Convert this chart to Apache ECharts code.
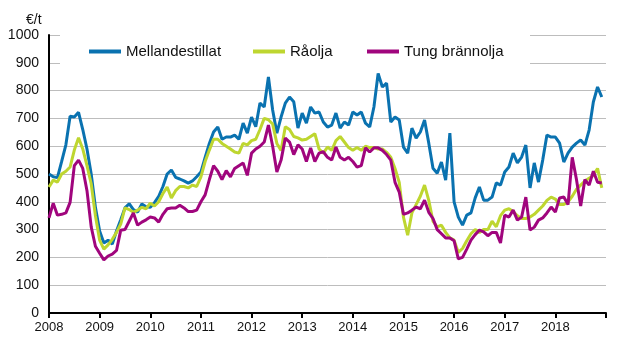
<!DOCTYPE html>
<html>
<head>
<meta charset="utf-8">
<script src="https://cdn.jsdelivr.net/npm/echarts@6/dist/echarts.min.js"></script>
<style>
  html, body { margin: 0; padding: 0; background: #fff; }
  #chart { width: 628px; height: 363px; }
</style>
</head>
<body>
<div id="chart"></div>
<script>
// Categories: monthly, Jan 2008 .. Dec 2018
const years = [2008, 2009, 2010, 2011, 2012, 2013, 2014, 2015, 2016, 2017, 2018];
const yearTicks = [2008, 2009, 2010, 2011, 2012, 2013, 2014, 2015, 2016, 2017, 2018];
const yTicks = [0, 100, 200, 300, 400, 500, 600, 700, 800, 900, 1000];
const seriesNames = ['Mellandestillat', 'Råolja', 'Tung brännolja'];

const mellandestillat = [
  500, 490, 487, 545, 605, 708, 705, 722, 660, 590, 500, 380,
  295, 252, 262, 248, 295, 335, 378, 393, 372, 363, 392, 382,
  380, 397, 420, 455, 500, 514, 488, 482, 475, 467, 475, 490,
  507, 560, 610, 651, 669, 625, 633, 633, 640, 625, 683, 647,
  705, 670, 755, 741, 849, 730, 647, 705, 755, 777, 760, 665,
  719, 683, 741, 719, 723, 687, 669, 676, 719, 665, 687, 676,
  723, 712, 723, 683, 669, 741, 862, 813, 827, 687, 705, 694,
  597, 575, 665, 629, 651, 694, 611, 521, 503, 543, 478, 647,
  400, 345, 316, 352, 360, 414, 453, 406, 406, 417, 468, 460,
  507, 525, 575, 540, 561, 604, 450, 540, 471, 550, 640, 633,
  633, 611, 543, 575, 597, 611, 622, 604, 658, 759, 813, 777
];
const raolja = [
  453, 478, 471, 500, 510, 525, 586, 630, 590, 530, 465, 350,
  262, 230, 245, 265, 290, 320, 378, 372, 362, 370, 380, 375,
  395, 385, 400, 430, 453, 414, 440, 455, 455, 450, 460, 455,
  490, 545, 586, 625, 625, 610, 600, 590, 579, 575, 610, 605,
  620, 625, 660, 700, 695, 680, 610, 585, 670, 660, 635, 630,
  622, 625, 635, 645, 590, 575, 597, 585, 620, 635, 615, 595,
  585, 595, 585, 600, 595, 595, 590, 590, 578, 560, 520, 470,
  345, 280, 360, 390, 420, 460, 405, 330, 310, 316, 290, 270,
  262, 218, 232, 260, 285, 300, 290, 300, 300, 330, 310, 350,
  370, 375, 365, 350, 340, 340, 345, 355, 370, 385, 405, 417,
  410, 390, 390, 400, 420, 445, 460, 475, 485, 495, 520, 450
];
const tungBrannolja = [
  342, 395, 352, 355, 360, 398, 530, 550, 520, 440, 310, 240,
  215, 191, 205, 212, 225, 298, 300, 330, 360, 316, 327, 335,
  345, 342, 327, 355, 375, 378, 378, 388, 378, 365, 365, 370,
  400, 425, 480, 530, 510, 480, 512, 490, 520, 530, 540, 495,
  575, 590, 600, 615, 676, 600, 507, 550, 629, 615, 570, 605,
  590, 545, 594, 545, 575, 580, 560, 550, 597, 560, 550, 560,
  545, 525, 530, 594, 579, 594, 594, 585, 570, 550, 470, 435,
  355, 360, 370, 381, 375, 406, 362, 340, 300, 285, 270, 270,
  260, 195, 200, 230, 262, 282, 298, 292, 278, 290, 290, 252,
  352, 345, 370, 334, 345, 417, 298, 309, 334, 342, 360, 381,
  363, 414, 417, 390, 560, 480, 385, 480, 460, 510, 470, 468
];

const months = [];
years.forEach(y => { for (let m = 0; m < 12; m++) months.push(y + m / 12); });
const toPairs = arr => arr.map((v, i) => [months[i], v]);

const colors = ['#0a72b0', '#bed630', '#a0057d'];
const font = '"Liberation Sans", Arial, sans-serif';
const legendLefts = [89, 253, 367];

const chart = echarts.init(document.getElementById('chart'), null, { renderer: 'canvas' });
chart.setOption({
  animation: false,
  backgroundColor: '#fff',
  textStyle: { fontFamily: font },
  title: {
    text: '€/t', left: 21, top: 8,
    textStyle: { fontSize: 14, fontWeight: 'normal', color: '#111', fontFamily: font }
  },
  grid: { left: 49, right: 22, top: 35, bottom: 50 },
  legend: seriesNames.map((n, i) => ({
    left: legendLefts[i], top: 44, padding: 0,
    icon: 'rect', itemWidth: 32, itemHeight: 4,
    textStyle: { fontSize: 15, color: '#111', fontFamily: font },
    data: [n]
  })),
  graphic: [{
    type: 'rect', z: 1, silent: true,
    shape: { x: 60, y: 30, width: 470, height: 38 },
    style: { fill: '#fff' }
  }],
  xAxis: {
    type: 'value', min: yearTicks[0], max: 2019, interval: 1,
    axisLine: { lineStyle: { color: '#000', width: 2 } },
    axisTick: { show: true, length: 5, lineStyle: { color: '#000', width: 2 } },
    splitLine: { show: false },
    axisLabel: {
      fontSize: 13, color: '#111', margin: 8, fontFamily: font,
      formatter: v => (yearTicks.indexOf(v) >= 0 ? String(v) : '')
    }
  },
  yAxis: {
    type: 'value', min: yTicks[0], max: yTicks[yTicks.length - 1], interval: 100,
    axisLine: { show: true, lineStyle: { color: '#000', width: 2 } },
    axisTick: { show: false },
    splitLine: { lineStyle: { color: '#bdbdbd', width: 1 } },
    axisLabel: { fontSize: 14, color: '#111', margin: 10, fontFamily: font, formatter: v => String(v) }
  },
  series: [
    { name: seriesNames[0], type: 'line', data: toPairs(mellandestillat), showSymbol: false,
      lineStyle: { width: 3, color: colors[0] }, itemStyle: { color: colors[0] } },
    { name: seriesNames[1], type: 'line', data: toPairs(raolja), showSymbol: false,
      lineStyle: { width: 3, color: colors[1] }, itemStyle: { color: colors[1] } },
    { name: seriesNames[2], type: 'line', data: toPairs(tungBrannolja), showSymbol: false,
      lineStyle: { width: 3, color: colors[2] }, itemStyle: { color: colors[2] } }
  ]
});
</script>
</body>
</html>
